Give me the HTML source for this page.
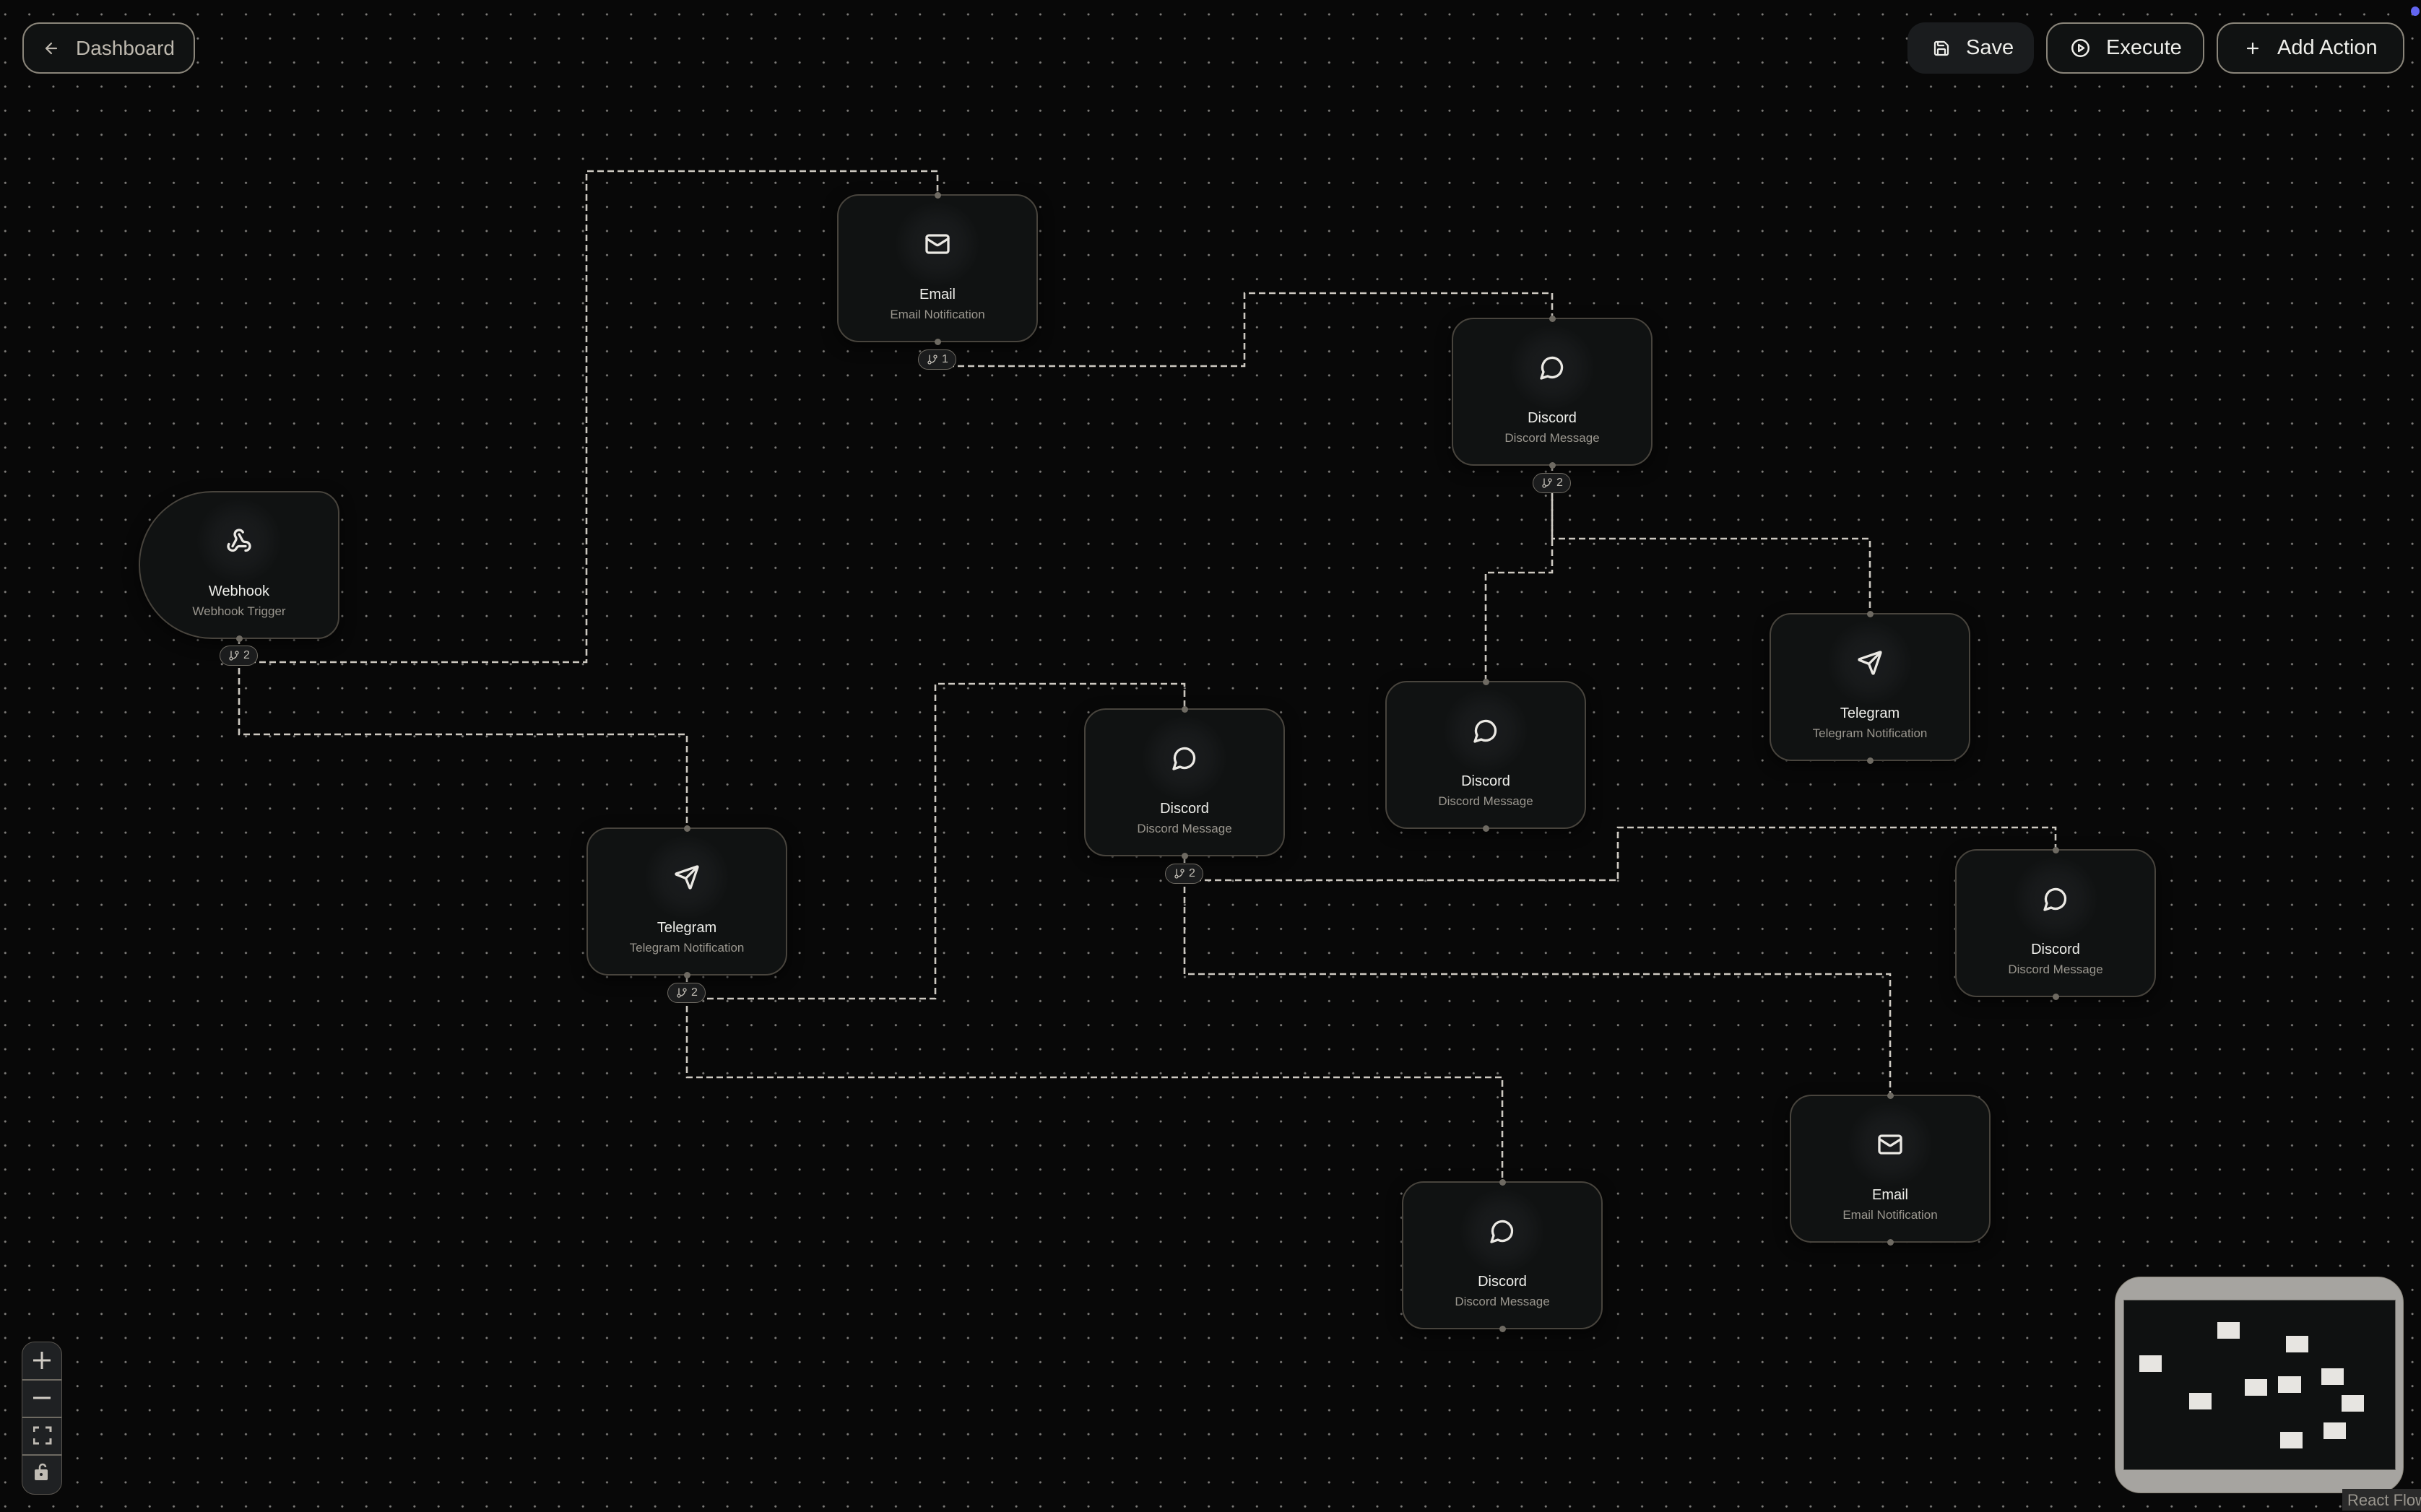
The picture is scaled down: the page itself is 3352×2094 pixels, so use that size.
<!DOCTYPE html>
<html><head><meta charset="utf-8"><style>
html,body{margin:0;padding:0}
body{width:3352px;height:2092px;position:relative;overflow:hidden;background-color:#080808;
background-image:radial-gradient(circle,#7d7b78 1.3px,transparent 1.8px);background-size:33.333px 33.333px;background-position:-9.4px 3.3px;
font-family:"Liberation Sans",sans-serif}
svg.e{position:absolute;left:0;top:0}
.n{position:absolute;width:274px;height:201px;background:#101212;border:2px solid #48443d;border-radius:30px;box-shadow:0 6px 20px rgba(0,0,0,.6)}
.g{position:absolute;left:77px;top:7px;width:120px;height:120px;border-radius:50%;background:radial-gradient(circle,#1a1c1e 0%,#17191a 40%,rgba(16,18,18,0) 70%)}
.i{position:absolute;left:119px;top:49px;width:36px;height:36px;fill:none;stroke:#ebe9e4;stroke-width:2.2;stroke-linecap:round;stroke-linejoin:round}
.t{position:absolute;left:0;right:0;top:126px;text-align:center;color:#eeeeea;font-size:20px}
.s{position:absolute;left:0;right:0;top:155px;text-align:center;color:#9a968e;font-size:17px}
.h{position:absolute;width:9px;height:9px;border-radius:50%;background:#6e6a62;margin-left:-4.5px;margin-top:-4.5px}
.b{position:absolute;width:51px;height:26px;border:1.5px solid #6e6a62;background:#1b1c1d;border-radius:14px;margin-left:-27px;color:#c2beb6;font-size:16px;line-height:26px}
.b svg{position:absolute;left:11px;top:5px;width:16px;height:16px;fill:none;stroke:#c2beb6;stroke-width:2;stroke-linecap:round}
.b span{position:absolute;left:32px;top:0}
.btn{position:absolute;top:31px;height:71px;border:2px solid #8a857a;background:#101212;border-radius:24px;color:#eeeeea;font-size:29px;line-height:71px;box-sizing:border-box;white-space:nowrap}
.btn svg{position:absolute;top:22px;width:24px;height:24px;fill:none;stroke:#eeeeea;stroke-width:2.2;stroke-linecap:round;stroke-linejoin:round}
.btn span{position:absolute;top:-2px}
.mm{position:absolute;background:#e7e5e1;width:31px;height:23px}
</style></head><body>
<svg width="0" height="0" style="position:absolute">
<defs>
<symbol id="mail" viewBox="0 0 24 24"><rect x="2" y="4" width="20" height="16" rx="2"/><path d="m22 7-8.970 5.7a1.94 1.94 0 0 1-2.06 0L2 7"/></symbol>
<symbol id="msg" viewBox="0 0 24 24"><path d="M7.9 20A9 9 0 1 0 4 16.1L2 22Z"/></symbol>
<symbol id="send" viewBox="0 0 24 24"><path d="M14.536 21.686a.5.5 0 0 0 .937-.024l6.5-19a.496.496 0 0 0-.635-.635l-19 6.5a.5.5 0 0 0-.024.937l7.93 3.18a2 2 0 0 1 1.112 1.110z"/><path d="m21.854 2.147-10.94 10.939"/></symbol>
<symbol id="hook" viewBox="0 0 24 24"><path d="M18 16.98h-5.99c-1.1 0-1.95.94-2.48 1.9A4 4 0 0 1 2 17c.01-.7.2-1.4.57-2"/><path d="m6 17 3.13-5.78c.53-.97.1-2.18-.5-3.1a4 4 0 1 1 6.89-4.06"/><path d="m12 6 3.13 5.73C15.66 12.7 16.9 13 18 13a4 4 0 0 1 0 8"/></symbol>
<symbol id="br" viewBox="0 0 24 24"><path d="M6 3v12"/><circle cx="18" cy="6" r="3"/><circle cx="6" cy="18" r="3"/><path d="M18 9a9 9 0 0 1-9 9"/></symbol>
</defs></svg>

<svg class="e" width="3352" height="2092" fill="none" stroke="#cdc9c1" stroke-width="2.6" stroke-dasharray="9 5">
<path d="M331,917 H812 V237 H1298 V269"/>
<path d="M331,883 V1017 H951 V1146"/>
<path d="M1298,507 H1723 V406 H2149 V440"/>
<path d="M2149,643 V746 H2589 V849"/>
<path d="M2149,677 V793 H2057 V943"/>
<path d="M1640,1219 H2240 V1146 H2846 V1176"/>
<path d="M1640,1186 V1349 H2617 V1516"/>
<path d="M951,1383 H1295 V947 H1640 V981"/>
<path d="M951,1351 V1492 H2080 V1636"/>
</svg>

<div class="n" style="left:1159px;top:269px"><div class="g"></div><svg class="i"><use href="#mail"/></svg><div class="t">Email</div><div class="s">Email Notification</div></div>
<div class="n" style="left:2010px;top:440px"><div class="g"></div><svg class="i"><use href="#msg"/></svg><div class="t">Discord</div><div class="s">Discord Message</div></div>
<div class="n" style="left:192px;top:680px;border-radius:102px 30px 30px 102px/102px 30px 30px 102px"><div class="g"></div><svg class="i"><use href="#hook"/></svg><div class="t">Webhook</div><div class="s">Webhook Trigger</div></div>
<div class="n" style="left:2450px;top:849px"><div class="g"></div><svg class="i"><use href="#send"/></svg><div class="t">Telegram</div><div class="s">Telegram Notification</div></div>
<div class="n" style="left:1501px;top:981px"><div class="g"></div><svg class="i"><use href="#msg"/></svg><div class="t">Discord</div><div class="s">Discord Message</div></div>
<div class="n" style="left:1918px;top:943px"><div class="g"></div><svg class="i"><use href="#msg"/></svg><div class="t">Discord</div><div class="s">Discord Message</div></div>
<div class="n" style="left:812px;top:1146px"><div class="g"></div><svg class="i"><use href="#send"/></svg><div class="t">Telegram</div><div class="s">Telegram Notification</div></div>
<div class="n" style="left:2707px;top:1176px"><div class="g"></div><svg class="i"><use href="#msg"/></svg><div class="t">Discord</div><div class="s">Discord Message</div></div>
<div class="n" style="left:2478px;top:1516px"><div class="g"></div><svg class="i"><use href="#mail"/></svg><div class="t">Email</div><div class="s">Email Notification</div></div>
<div class="n" style="left:1941px;top:1636px"><div class="g"></div><svg class="i"><use href="#msg"/></svg><div class="t">Discord</div><div class="s">Discord Message</div></div>

<div class="h" style="left:1298px;top:270px"></div><div class="h" style="left:1298px;top:473px"></div>
<div class="h" style="left:2149px;top:441px"></div><div class="h" style="left:2149px;top:644px"></div>
<div class="h" style="left:331px;top:884px"></div>
<div class="h" style="left:2589px;top:850px"></div><div class="h" style="left:2589px;top:1053px"></div>
<div class="h" style="left:1640px;top:982px"></div><div class="h" style="left:1640px;top:1185px"></div>
<div class="h" style="left:2057px;top:944px"></div><div class="h" style="left:2057px;top:1147px"></div>
<div class="h" style="left:951px;top:1147px"></div><div class="h" style="left:951px;top:1350px"></div>
<div class="h" style="left:2846px;top:1177px"></div><div class="h" style="left:2846px;top:1380px"></div>
<div class="h" style="left:2617px;top:1517px"></div><div class="h" style="left:2617px;top:1720px"></div>
<div class="h" style="left:2080px;top:1637px"></div><div class="h" style="left:2080px;top:1840px"></div>

<div class="b" style="left:1298px;top:484px"><svg><use href="#br"/></svg><span>1</span></div>
<div class="b" style="left:2149px;top:655px"><svg><use href="#br"/></svg><span>2</span></div>
<div class="b" style="left:331px;top:894px"><svg><use href="#br"/></svg><span>2</span></div>
<div class="b" style="left:1640px;top:1196px"><svg><use href="#br"/></svg><span>2</span></div>
<div class="b" style="left:951px;top:1361px"><svg><use href="#br"/></svg><span>2</span></div>

<div class="btn" style="left:31px;width:239px;color:#bdb8ae;font-size:28px"><svg style="left:26px;stroke:#bdb8ae" viewBox="0 0 24 24"><path d="M19 12H5M12 19l-7-7 7-7"/></svg><span style="left:72px">Dashboard</span></div>
<div class="btn" style="left:2641px;width:175px;border-color:transparent;background:#1a1c1e"><svg style="left:33px" viewBox="0 0 24 24"><path d="M15.2 3a2 2 0 0 1 1.4.6l3.8 3.8a2 2 0 0 1 .6 1.4V19a2 2 0 0 1-2 2H5a2 2 0 0 1-2-2V5a2 2 0 0 1 2-2z"/><path d="M17 21v-7a1 1 0 0 0-1-1H8a1 1 0 0 0-1 1v7"/><path d="M7 3v4a1 1 0 0 0 1 1h7"/></svg><span style="left:79px">Save</span></div>
<div class="btn" style="left:2833px;width:219px"><svg style="left:32px;width:27px;height:27px;top:20px" viewBox="0 0 24 24"><circle cx="12" cy="12" r="10"/><path d="m10 8 6 4-6 4z"/></svg><span style="left:81px">Execute</span></div>
<div class="btn" style="left:3069px;width:260px"><svg style="left:36px" viewBox="0 0 24 24"><path d="M5 12h14M12 5v14"/></svg><span style="left:82px">Add Action</span></div>
<div style="position:absolute;left:3338px;top:9px;width:12px;height:13px;border-radius:50%;background:#6366f1"></div>

<div style="position:absolute;left:30px;top:1858px;width:54px;height:210px;border:1.5px solid #5a5650;border-radius:18px;overflow:hidden;background:#1f2123">
<div style="position:absolute;left:0;right:0;top:51px;height:2px;background:#6e6a62"></div>
<div style="position:absolute;left:0;right:0;top:103px;height:2px;background:#6e6a62"></div>
<div style="position:absolute;left:0;right:0;top:155px;height:2px;background:#6e6a62"></div>
<svg style="position:absolute;left:14px;top:12px" width="26" height="26" fill="none" stroke="#d0ccc4" stroke-width="3"><path d="M1 13H25M13 1V25"/></svg>
<svg style="position:absolute;left:14px;top:64px" width="26" height="26" fill="none" stroke="#d0ccc4" stroke-width="3"><path d="M1 13H25"/></svg>
<svg style="position:absolute;left:15px;top:116px" width="26" height="26" fill="none" stroke="#c0bcb4" stroke-width="3"><path d="M1 8V2H8M17 2H24V8M24 17V24H17M8 24H1V17"/></svg>
<svg style="position:absolute;left:16px;top:166px" width="22" height="28"><path d="M8 11V7a4 4 0 0 1 8 0" fill="none" stroke="#c0bcb4" stroke-width="2.5"/><rect x="1" y="10" width="18" height="15" rx="2" fill="#c0bcb4"/><circle cx="10" cy="17" r="2" fill="#1f2123"/></svg>
</div>

<div style="position:absolute;left:2928px;top:1768px;width:398px;height:298px;background:#a6a4a0;border:1.5px solid #8a857a;border-radius:36px"></div>
<div style="position:absolute;left:2940px;top:1800px;width:375px;height:234px;background:#0f1111;border:1px solid #6a6864"></div>
<div class="mm" style="left:3070px;top:1831px"></div>
<div class="mm" style="left:3165px;top:1850px"></div>
<div class="mm" style="left:2962px;top:1877px"></div>
<div class="mm" style="left:3214px;top:1895px"></div>
<div class="mm" style="left:3108px;top:1910px"></div>
<div class="mm" style="left:3154px;top:1906px;width:32px"></div>
<div class="mm" style="left:3242px;top:1932px"></div>
<div class="mm" style="left:3031px;top:1929px"></div>
<div class="mm" style="left:3217px;top:1970px"></div>
<div class="mm" style="left:3157px;top:1983px"></div>
<div style="position:absolute;left:3243px;top:2062px;width:120px;height:30px;background:#2a2a2a;color:#9a968e;font-size:22px;line-height:32px;padding-left:7px;white-space:nowrap">React Flow</div>
</body></html>
